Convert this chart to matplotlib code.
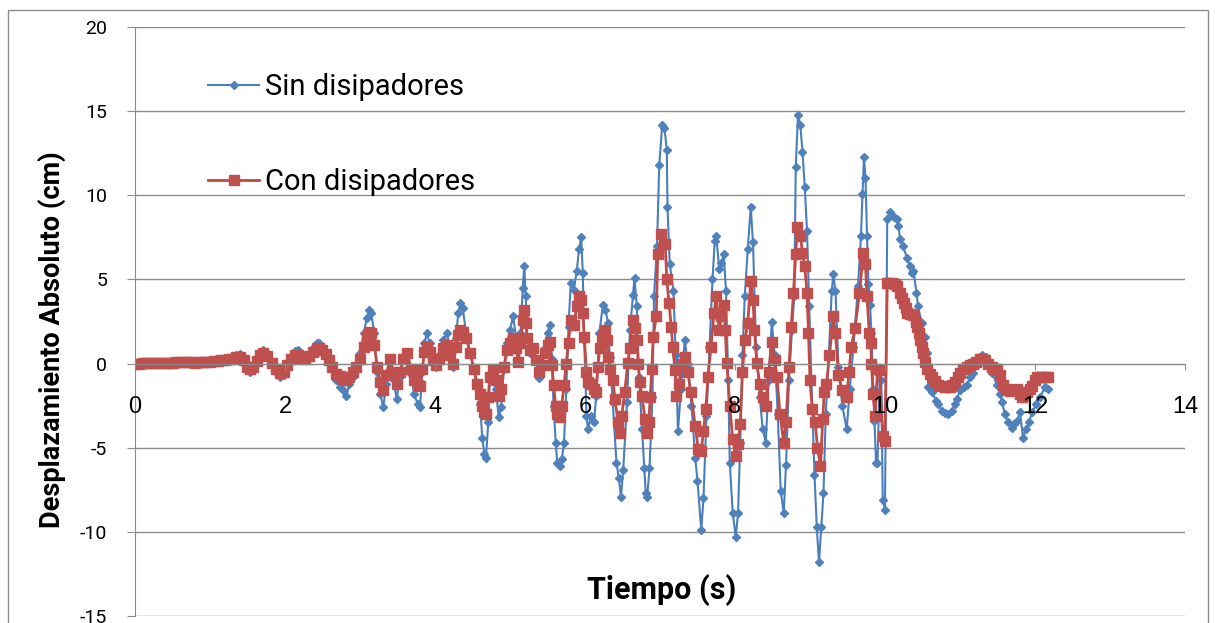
import matplotlib
matplotlib.use('Agg')
import matplotlib.pyplot as plt
from matplotlib.patches import Rectangle

plt.rcParams['axes.unicode_minus'] = False

# (tiempo s, desplazamiento cm)
sin_pts = [
    (0.00, 0.00), (0.05, 0.00), (0.10, 0.01), (0.15, 0.02), (0.20, 0.02), (0.25, 0.03), (0.30, 0.04),
    (0.35, 0.05), (0.40, 0.06), (0.45, 0.06), (0.50, 0.07), (0.55, 0.08), (0.60, 0.09), (0.65, 0.10),
    (0.70, 0.11), (0.75, 0.10), (0.80, 0.06), (0.85, 0.08), (0.90, 0.11), (0.95, 0.13), (1.00, 0.14),
    (1.05, 0.16), (1.10, 0.19), (1.15, 0.22), (1.20, 0.26), (1.25, 0.30), (1.30, 0.36),
    (1.35, 0.48), (1.40, 0.55), (1.45, 0.30), (1.50, -0.30), (1.53, -0.50), (1.57, -0.30), (1.62, 0.20),
    (1.67, 0.65), (1.71, 0.80), (1.76, 0.60), (1.82, 0.10), (1.88, -0.50), (1.93, -0.80), (1.98, -0.70),
    (2.03, -0.20), (2.08, 0.40), (2.13, 0.75), (2.17, 0.80), (2.22, 0.50), (2.27, 0.30), (2.32, 0.55),
    (2.37, 0.90), (2.42, 1.20), (2.45, 1.25), (2.49, 1.00), (2.54, 0.70), (2.59, 0.40), (2.63, -0.30),
    (2.68, -1.00), (2.73, -1.40), (2.77, -1.60), (2.82, -1.90), (2.86, -1.20), (2.91, -0.80), (2.95, -0.30),
    (3.00, 0.60), (3.05, 1.80), (3.09, 2.70), (3.12, 3.20), (3.15, 3.00), (3.19, 1.80), (3.23, -0.50),
    (3.27, -1.80), (3.31, -2.60), (3.35, -1.20), (3.40, 0.20), (3.44, -0.90), (3.49, -2.10), (3.53, -0.80),
    (3.58, 0.30), (3.63, 0.60), (3.68, -0.60), (3.72, -1.80), (3.77, -2.40), (3.80, -2.60), (3.83, -0.50),
    (3.86, 1.20), (3.89, 1.80), (3.93, 1.20), (3.97, 0.40), (4.02, -0.20), (4.06, 0.50), (4.11, 1.40),
    (4.16, 1.80), (4.20, 0.80), (4.24, -0.20), (4.28, 1.50), (4.31, 3.00), (4.34, 3.60), (4.37, 3.30),
    (4.42, 1.60), (4.47, 0.60), (4.52, -0.40), (4.56, -1.40), (4.60, -2.40), (4.63, -4.40), (4.66, -5.40),
    (4.68, -5.60), (4.71, -3.50), (4.73, -0.80), (4.77, -0.50), (4.81, -1.50), (4.85, -3.20), (4.88, -2.60),
    (4.92, -0.30), (4.96, 1.20), (5.00, 2.00), (5.04, 2.80), (5.08, 1.60), (5.11, 0.10), (5.14, 1.80),
    (5.17, 4.50), (5.19, 5.80), (5.21, 4.00), (5.23, 1.60), (5.27, 0.60), (5.31, 1.00), (5.35, 0.20),
    (5.38, -0.85), (5.42, -0.20), (5.46, 0.90), (5.50, 1.80), (5.53, 2.30), (5.56, 0.30), (5.58, -2.50),
    (5.61, -4.70), (5.63, -5.90), (5.66, -6.10), (5.69, -5.70), (5.72, -4.70), (5.75, -1.50), (5.78, 2.20),
    (5.81, 4.80), (5.85, 4.40), (5.89, 5.50), (5.92, 6.80), (5.95, 7.50), (5.97, 5.40), (5.99, 1.40),
    (6.02, -3.10), (6.04, -3.90), (6.08, -3.10), (6.12, -3.50), (6.15, -1.90), (6.19, 1.80), (6.24, 3.50),
    (6.27, 3.20), (6.31, 2.40), (6.33, 0.40), (6.37, -2.30), (6.42, -5.90), (6.45, -6.80), (6.48, -7.90),
    (6.51, -6.30), (6.56, -2.30), (6.60, 2.00), (6.64, 4.10), (6.66, 5.10), (6.69, 3.40), (6.72, -0.80),
    (6.76, -3.90), (6.79, -6.20), (6.81, -7.70), (6.83, -7.90), (6.86, -6.20), (6.90, -2.00), (6.92, 4.00),
    (6.96, 7.00), (6.99, 11.80), (7.03, 14.20), (7.06, 14.00), (7.09, 12.70), (7.10, 9.30), (7.13, 5.90),
    (7.18, 4.30), (7.21, 0.50), (7.24, -4.00), (7.28, -1.50), (7.33, 1.40), (7.37, 0.00), (7.42, -2.50),
    (7.47, -5.60), (7.50, -7.00), (7.55, -9.90), (7.58, -8.00), (7.62, -3.10), (7.66, 1.00), (7.70, 5.00),
    (7.73, 7.30), (7.75, 7.60), (7.79, 5.60), (7.82, 6.00), (7.85, 6.50), (7.88, 4.30), (7.91, -1.00),
    (7.93, -5.90), (7.97, -8.90), (8.01, -10.30), (8.04, -8.90), (8.07, -4.70), (8.10, 0.50), (8.13, 4.00),
    (8.17, 6.80), (8.21, 9.30), (8.24, 7.20), (8.28, 1.00), (8.33, -2.00), (8.37, -3.90), (8.41, -4.70),
    (8.45, -1.00), (8.49, 2.50), (8.53, 0.50), (8.57, -3.00), (8.61, -7.60), (8.65, -8.90), (8.68, -6.00),
    (8.72, -1.00), (8.76, 2.00), (8.79, 4.00), (8.81, 11.70), (8.84, 14.80), (8.87, 14.20), (8.90, 12.60),
    (8.93, 10.50), (8.96, 7.90), (8.99, 3.40), (9.02, -1.10), (9.06, -6.60), (9.09, -9.70), (9.12, -11.80),
    (9.15, -9.70), (9.18, -7.70), (9.21, -3.00), (9.25, 0.50), (9.29, 4.30), (9.31, 5.30), (9.34, 4.30),
    (9.38, -0.20), (9.43, -2.50), (9.49, -3.90), (9.53, -1.50), (9.58, 1.00), (9.64, 4.60), (9.68, 7.60),
    (9.70, 10.10), (9.72, 12.30), (9.74, 11.00), (9.76, 7.60), (9.78, 4.70), (9.80, 3.50), (9.82, 1.80),
    (9.84, -1.50), (9.86, -3.40), (9.88, -5.90), (9.90, -5.90), (9.93, -0.50), (9.95, -1.00), (9.97, -8.10),
    (10.00, -8.70), (10.03, 8.60), (10.07, 9.00), (10.12, 8.70), (10.16, 8.60), (10.18, 8.20), (10.20, 7.40),
    (10.24, 7.00), (10.29, 6.30), (10.33, 5.80), (10.36, 5.40), (10.38, 5.50), (10.42, 4.20), (10.44, 3.40),
    (10.49, 2.40), (10.53, 1.60), (10.56, 0.60), (10.58, -1.40), (10.63, -1.70), (10.68, -2.20), (10.71, -2.40),
    (10.76, -2.80), (10.80, -2.95), (10.84, -3.00), (10.89, -2.80), (10.93, -2.40), (10.96, -2.10), (11.00, -1.60),
    (11.05, -1.40), (11.09, -1.25), (11.14, -0.80), (11.18, -0.55), (11.23, -0.10), (11.27, 0.25), (11.30, 0.50),
    (11.35, 0.40), (11.39, 0.00), (11.43, -0.55), (11.49, -1.25), (11.53, -1.80), (11.56, -2.30), (11.60, -3.00),
    (11.64, -3.50), (11.69, -3.80), (11.72, -3.60), (11.76, -3.40), (11.80, -2.90), (11.84, -4.40), (11.88, -3.90),
    (11.92, -3.50), (11.96, -2.90), (12.02, -2.40), (12.07, -2.00), (12.13, -1.40), (12.17, -1.50),
]

con_pts = [
    (0.00, 0.00), (0.05, 0.00), (0.10, 0.01), (0.15, 0.02), (0.20, 0.02), (0.25, 0.03), (0.30, 0.03),
    (0.35, 0.04), (0.40, 0.05), (0.45, 0.05), (0.50, 0.06), (0.55, 0.07), (0.60, 0.08), (0.65, 0.09),
    (0.70, 0.10), (0.75, 0.08), (0.80, 0.05), (0.85, 0.07), (0.90, 0.09), (0.95, 0.11), (1.00, 0.12),
    (1.05, 0.14), (1.10, 0.17), (1.15, 0.19), (1.20, 0.22), (1.25, 0.26), (1.30, 0.30),
    (1.35, 0.38), (1.40, 0.40), (1.45, 0.20), (1.50, -0.20), (1.53, -0.35), (1.57, -0.20), (1.62, 0.15),
    (1.67, 0.50), (1.71, 0.60), (1.76, 0.45), (1.82, 0.05), (1.88, -0.35), (1.93, -0.55), (1.98, -0.50),
    (2.03, -0.10), (2.08, 0.30), (2.13, 0.50), (2.17, 0.50), (2.22, 0.35), (2.27, 0.30), (2.32, 0.45),
    (2.37, 0.70), (2.42, 0.90), (2.45, 0.90), (2.49, 0.80), (2.54, 0.55), (2.59, 0.20), (2.63, -0.20),
    (2.68, -0.60), (2.73, -0.75), (2.77, -0.90), (2.82, -1.00), (2.86, -0.80), (2.91, -0.50), (2.95, -0.20),
    (3.00, 0.30), (3.05, 1.00), (3.09, 1.60), (3.12, 1.90), (3.15, 1.80), (3.19, 1.10), (3.23, -0.20),
    (3.27, -1.10), (3.31, -1.55), (3.35, -0.70), (3.40, 0.30), (3.44, -0.50), (3.49, -1.20), (3.53, -0.50),
    (3.58, 0.30), (3.63, 0.60), (3.68, -0.30), (3.72, -1.00), (3.77, -1.30), (3.80, -1.35), (3.83, -0.30),
    (3.86, 0.70), (3.89, 1.00), (3.93, 0.70), (3.97, 0.20), (4.02, -0.10), (4.06, 0.30), (4.11, 0.90),
    (4.16, 1.10), (4.20, 0.50), (4.24, 0.00), (4.28, 1.00), (4.31, 1.70), (4.34, 2.00), (4.37, 1.90),
    (4.42, 1.50), (4.47, 0.60), (4.52, -0.30), (4.56, -1.20), (4.60, -1.80), (4.63, -2.50), (4.66, -2.90),
    (4.68, -3.00), (4.71, -2.00), (4.73, -0.80), (4.77, -0.30), (4.81, -1.00), (4.85, -1.90), (4.88, -1.50),
    (4.92, -0.20), (4.96, 0.80), (5.00, 1.20), (5.04, 1.50), (5.08, 0.90), (5.11, 0.10), (5.14, 1.20),
    (5.17, 2.60), (5.19, 3.20), (5.21, 2.40), (5.23, 1.50), (5.27, 0.80), (5.31, 0.90), (5.35, 0.20),
    (5.38, -0.50), (5.42, -0.10), (5.46, 0.60), (5.50, 1.10), (5.53, 1.30), (5.56, -0.10), (5.58, -1.30),
    (5.61, -2.50), (5.63, -3.00), (5.66, -3.20), (5.69, -2.50), (5.72, -1.30), (5.75, 0.00), (5.78, 1.25),
    (5.81, 2.60), (5.85, 2.30), (5.89, 3.40), (5.92, 4.00), (5.95, 3.80), (5.97, 3.00), (5.99, 1.60),
    (6.02, -0.50), (6.04, -1.10), (6.08, -1.20), (6.12, -1.50), (6.15, -1.70), (6.17, -0.20), (6.20, 0.95),
    (6.23, 1.60), (6.27, 2.00), (6.29, 1.40), (6.31, 0.40), (6.33, -0.35), (6.37, -0.95), (6.40, -2.10),
    (6.44, -3.50), (6.47, -4.10), (6.49, -3.10), (6.53, -1.70), (6.57, 0.05), (6.60, 0.95), (6.64, 2.60),
    (6.67, 2.10), (6.69, 1.40), (6.71, 0.00), (6.73, -1.10), (6.76, -1.95), (6.80, -3.30), (6.83, -4.10),
    (6.85, -3.50), (6.87, -2.00), (6.89, -0.30), (6.91, 1.60), (6.95, 2.80), (6.97, 6.50), (7.02, 7.70),
    (7.07, 7.10), (7.09, 5.00), (7.12, 3.60), (7.15, 2.20), (7.17, 1.00), (7.20, -0.40), (7.22, -1.90),
    (7.25, -1.20), (7.30, 0.00), (7.33, 0.40), (7.37, -0.50), (7.41, -1.70), (7.47, -3.70), (7.51, -5.10),
    (7.55, -5.20), (7.58, -4.00), (7.61, -2.70), (7.64, -0.80), (7.68, 1.00), (7.72, 3.00), (7.75, 4.00),
    (7.79, 2.00), (7.82, 2.80), (7.85, 3.50), (7.87, 2.00), (7.89, 0.05), (7.93, -2.50), (7.97, -4.50),
    (8.01, -5.50), (8.04, -4.80), (8.07, -3.60), (8.10, -0.50), (8.13, 1.40), (8.17, 2.40), (8.21, 4.90),
    (8.24, 3.80), (8.26, 2.00), (8.29, 0.05), (8.33, -1.20), (8.37, -2.00), (8.41, -2.50), (8.45, -0.50),
    (8.49, 1.30), (8.53, 0.20), (8.56, -0.80), (8.60, -3.00), (8.65, -4.70), (8.68, -3.50), (8.72, -0.20),
    (8.75, 2.20), (8.78, 4.20), (8.81, 6.50), (8.83, 8.10), (8.87, 7.60), (8.90, 6.60), (8.93, 5.80),
    (8.96, 4.20), (8.98, 1.80), (9.00, -1.00), (9.03, -2.70), (9.07, -3.50), (9.10, -5.00), (9.14, -6.10),
    (9.17, -3.30), (9.19, -1.70), (9.22, -1.20), (9.26, 0.50), (9.31, 2.80), (9.34, 1.80), (9.38, -0.70),
    (9.43, -1.60), (9.49, -2.00), (9.52, -0.50), (9.55, 1.00), (9.60, 2.10), (9.66, 4.20), (9.71, 6.60),
    (9.74, 5.90), (9.76, 4.00), (9.79, 1.80), (9.81, 1.25), (9.82, 0.00), (9.84, -1.80), (9.87, -3.10),
    (9.90, -0.30), (9.93, -0.40), (9.97, -4.30), (10.00, -4.60), (10.03, 4.80), (10.06, 4.80), (10.09, 4.80),
    (10.13, 4.70), (10.16, 4.60), (10.20, 4.20), (10.23, 3.90), (10.26, 3.60), (10.28, 3.30), (10.30, 3.00),
    (10.34, 2.95), (10.38, 2.90), (10.41, 2.50), (10.43, 2.20), (10.45, 1.80), (10.47, 1.40), (10.49, 1.00),
    (10.51, 0.60), (10.54, 0.10), (10.56, -0.35), (10.60, -0.60), (10.63, -0.80), (10.67, -1.05), (10.71, -1.25),
    (10.75, -1.35), (10.80, -1.40), (10.84, -1.42), (10.87, -1.40), (10.90, -1.25), (10.93, -1.10), (10.97, -0.80),
    (11.00, -0.55), (11.04, -0.35), (11.09, -0.20), (11.13, -0.10), (11.17, -0.05), (11.22, 0.10), (11.27, 0.25),
    (11.30, 0.25), (11.33, 0.20), (11.38, 0.00), (11.43, -0.20), (11.46, -0.30), (11.49, -0.35), (11.53, -0.65),
    (11.57, -1.25), (11.62, -1.50), (11.67, -1.65), (11.72, -1.55), (11.76, -1.50), (11.80, -1.80), (11.83, -2.00),
    (11.86, -1.85), (11.89, -1.70), (11.93, -1.50), (11.96, -1.35), (12.00, -1.00), (12.03, -0.80), (12.07, -0.80),
    (12.10, -0.80), (12.13, -0.80), (12.17, -0.80),
]

x_ticks = [0, 2, 4, 6, 8, 10, 12, 14]
y_ticks = [-15, -10, -5, 0, 5, 10, 15, 20]

t_sin, v_sin = zip(*sin_pts)
t_con, v_con = zip(*con_pts)

gris = '#8c8c8c'
W, H = 1215, 623

fig = plt.figure(figsize=(W / 100, H / 100), dpi=100)
ax = fig.add_axes([135 / W, 7 / H, 1050 / W, 589 / H])

# lineas de la grilla detras de las series, etiquetas de ejes delante
for y in y_ticks:
    ax.axhline(y, color=gris, lw=1.0, zorder=1)

ax.plot(t_sin, v_sin, color='#4A7EBB', lw=1.5, marker='D', ms=4.5, mfc='#4F81BD', mec='#4F81BD',
        label='Sin disipadores', zorder=2.1)
ax.plot(t_con, v_con, color='#BE4B48', lw=2.0, marker='s', ms=6.5, mfc='#C0504D', mec='#C0504D',
        label='Con disipadores', zorder=2.2)

ax.set_xlim(0, 14)
ax.set_ylim(-15, 20)
ax.set_xticks(x_ticks)
ax.set_yticks(y_ticks)
ax.set_axisbelow(False)

ax.spines['top'].set_visible(False)
ax.spines['right'].set_visible(False)
ax.spines['bottom'].set_position(('data', 0))
ax.spines['bottom'].set_color(gris)
ax.spines['left'].set_color(gris)

ax.tick_params(axis='y', direction='out', length=6, color=gris, pad=14, labelsize=14,
               labelfontfamily='Roboto')
ax.tick_params(axis='x', direction='out', length=4, color=gris, pad=19, labelsize=17,
               labelfontfamily='Liberation Sans')

ax.legend(loc='upper left', bbox_to_anchor=(208 / W, 1 - 73 / H), bbox_transform=fig.transFigure,
          frameon=False, prop={'family': 'Roboto', 'size': 21}, handlelength=1.76,
          handletextpad=0.2, labelspacing=2.3, borderpad=0, borderaxespad=0)

fig.text(662 / W, 1 - 590 / H, 'Tiempo (s)', ha='center', va='center',
         family='Roboto', weight='bold', size=22)
fig.text(52 / W, 1 - 340 / H, 'Desplazamiento Absoluto (cm)', rotation=90, ha='center', va='center',
         family='Roboto', weight='bold', size=19.5)

fig.add_artist(Rectangle((7.5 / W, -0.05), (1208 - 7.5) / W, 1.05 - 10.5 / H,
                         transform=fig.transFigure, fill=False, ec=gris, lw=1))

fig.savefig('out.png', dpi=100)
